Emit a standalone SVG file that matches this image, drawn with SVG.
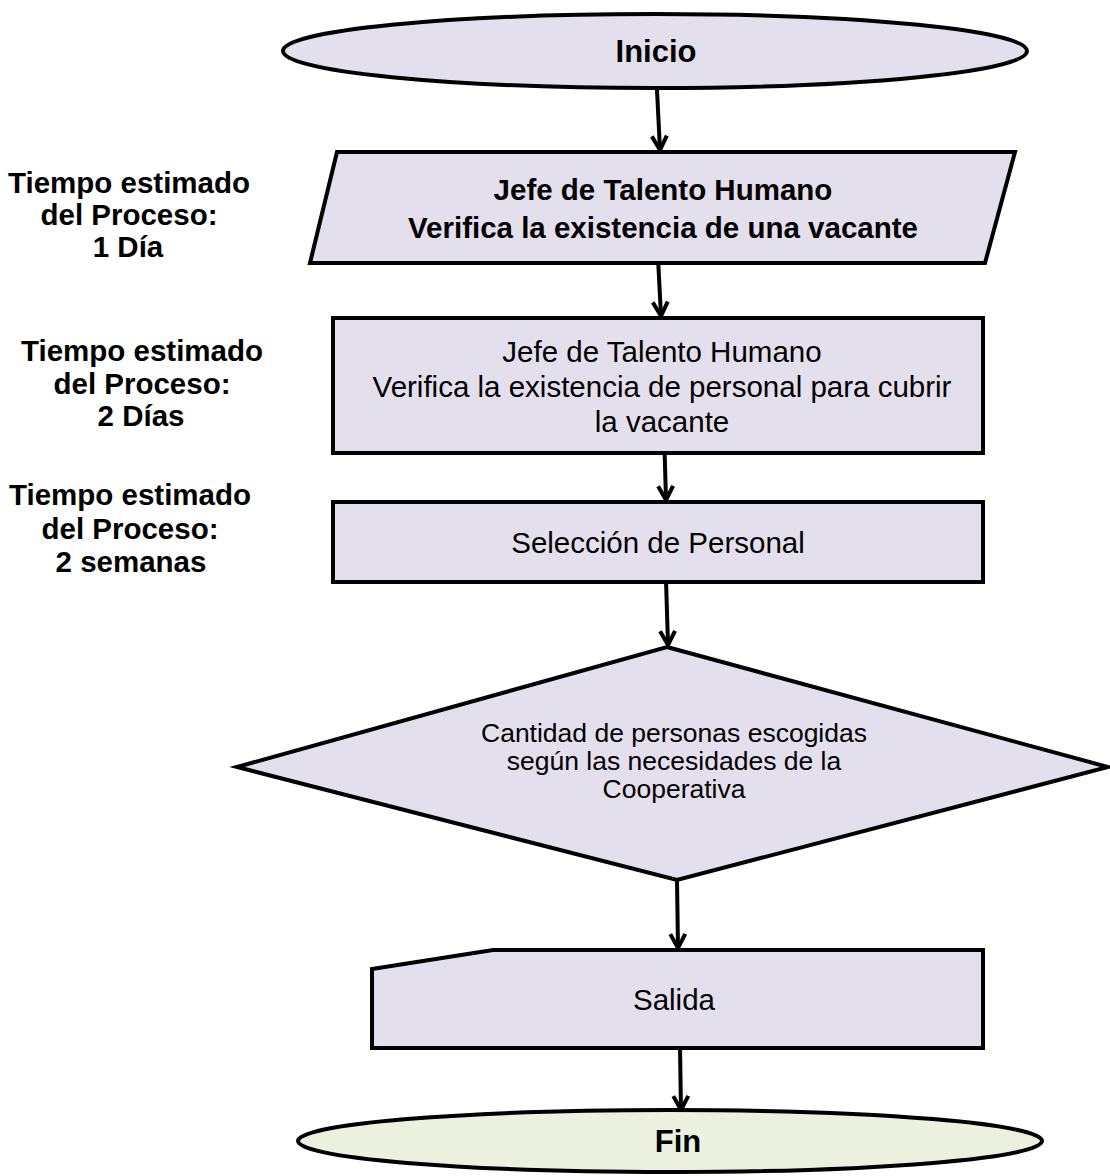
<svg xmlns="http://www.w3.org/2000/svg" width="1110" height="1176" viewBox="0 0 1110 1176">
  <style>
    .shape { fill: #E4DFEC; stroke: #000; stroke-width: 4; stroke-linejoin: miter; }
    .end { fill: #EBF1DE; stroke: #000; stroke-width: 4; }
    .conn { stroke: #000; stroke-width: 4; fill: none; marker-end: url(#arrow); }
    text { font-family: "Liberation Sans", Arial, sans-serif; fill: #000; text-anchor: middle; }
    .b { font-weight: bold; font-size: 29.5px; }
    .t { font-weight: bold; font-size: 31px; }
    .r { font-size: 29.5px; }
    .d { font-size: 26.5px; }
  </style>
  <defs>
    <marker id="arrow" markerUnits="userSpaceOnUse" viewBox="-18 -10 20 20" refX="0" refY="0" markerWidth="20" markerHeight="20" orient="auto">
      <path d="M -14 -7.5 L 0 0 L -14 7.5" fill="none" stroke="#000" stroke-width="4" stroke-linejoin="miter"/>
    </marker>
  </defs>

  <!-- time annotations -->
  <g id="time1">
    <text class="b" x="129" y="193">Tiempo estimado</text>
    <text class="b" x="129" y="225">del Proceso:</text>
    <text class="b" x="128" y="257">1 Día</text>
  </g>
  <g id="time2">
    <text class="b" x="142" y="361">Tiempo estimado</text>
    <text class="b" x="142" y="394">del Proceso:</text>
    <text class="b" x="141" y="426">2 Días</text>
  </g>
  <g id="time3">
    <text class="b" x="130" y="505">Tiempo estimado</text>
    <text class="b" x="130" y="539">del Proceso:</text>
    <text class="b" x="131" y="572">2 semanas</text>
  </g>

  <!-- connectors -->
  <g id="connectors">
    <line class="conn" x1="657" y1="90" x2="660" y2="150"/>
    <line class="conn" x1="658" y1="258" x2="661" y2="316"/>
    <line class="conn" x1="664" y1="430" x2="666" y2="500"/>
    <line class="conn" x1="666" y1="580" x2="668" y2="645"/>
    <line class="conn" x1="677" y1="880" x2="678" y2="948"/>
    <line class="conn" x1="680" y1="1048" x2="681" y2="1110"/>
  </g>

  <g id="inicio">
    <ellipse class="shape" cx="655" cy="51" rx="372" ry="37"/>
    <text class="t" x="656" y="62">Inicio</text>
  </g>

  <g id="verifica-vacante">
    <polygon class="shape" points="337,152 1015,152 985,263 310,263"/>
    <text class="b" x="663" y="200">Jefe de Talento Humano</text>
    <text class="b" x="663" y="238">Verifica la existencia de una vacante</text>
  </g>

  <g id="verifica-personal">
    <rect class="shape" x="333" y="318" width="650" height="135"/>
    <text class="r" x="662" y="362">Jefe de Talento Humano</text>
    <text class="r" x="662" y="397">Verifica la existencia de personal para cubrir</text>
    <text class="r" x="662" y="432">la vacante</text>
  </g>

  <g id="seleccion">
    <rect class="shape" x="333" y="502" width="650" height="80"/>
    <text class="r" x="658" y="553">Selección de Personal</text>
  </g>

  <g id="decision">
    <polygon class="shape" points="667,647 1108,767 677,880 237,767"/>
    <text class="d" x="674" y="742">Cantidad de personas escogidas</text>
    <text class="d" x="674" y="770">según las necesidades de la</text>
    <text class="d" x="674" y="798">Cooperativa</text>
  </g>

  <g id="salida">
    <polygon class="shape" points="372,969 493,950 983,950 983,1048 372,1048"/>
    <text class="r" x="674" y="1010">Salida</text>
  </g>

  <g id="fin">
    <ellipse class="end" cx="670" cy="1141" rx="372" ry="31"/>
    <text class="t" x="678" y="1152">Fin</text>
  </g>
</svg>
